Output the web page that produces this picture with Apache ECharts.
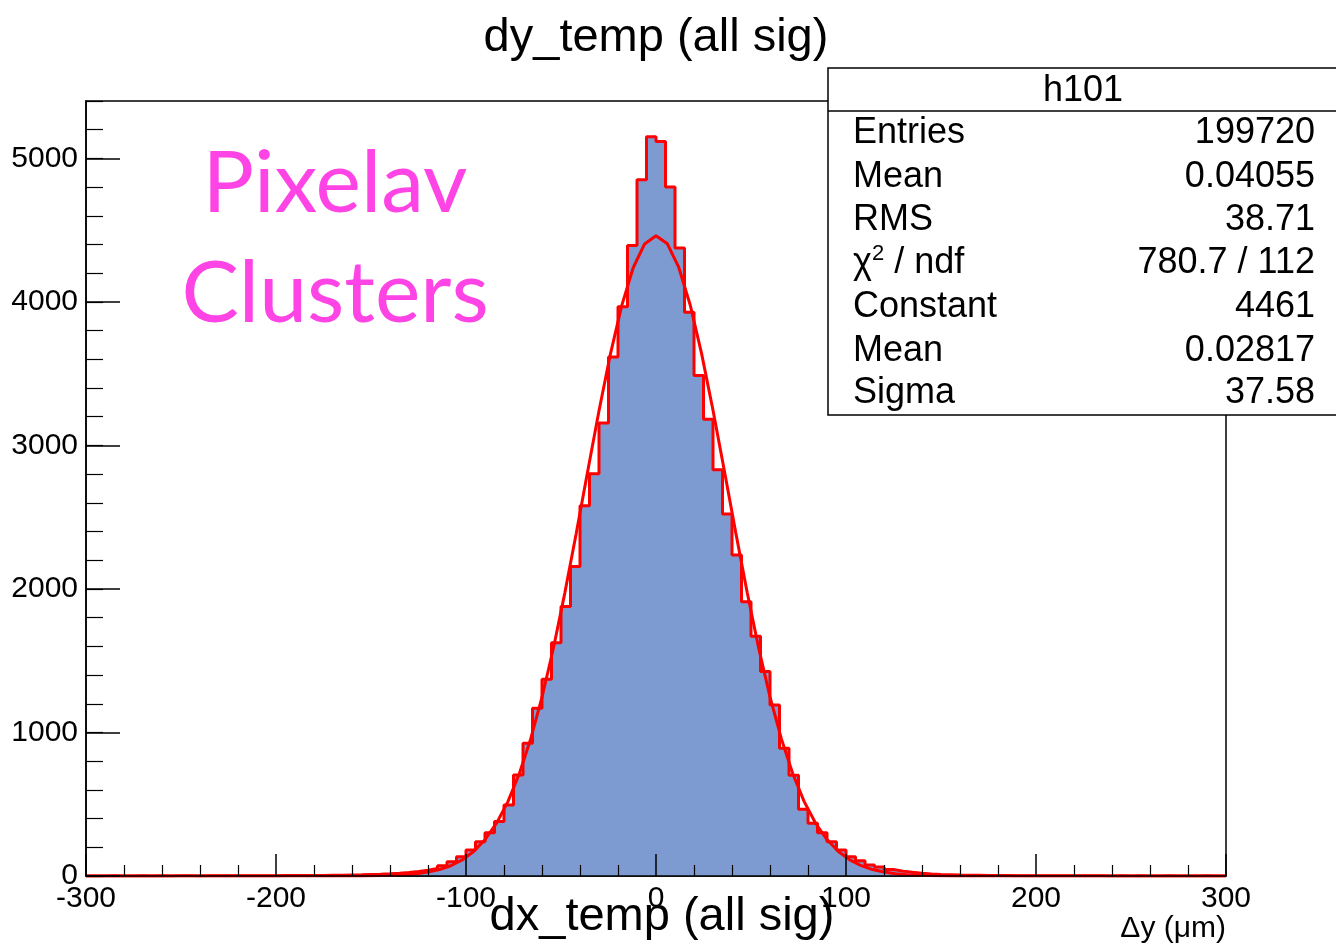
<!DOCTYPE html>
<html>
<head>
<meta charset="utf-8">
<title>dy_temp (all sig)</title>
<script src="https://cdn.jsdelivr.net/npm/echarts@6/dist/echarts.min.js"></script>
<style>
  html, body { margin: 0; padding: 0; background: #fff; }
  #chart { width: 1336px; height: 947px; }
</style>
</head>
<body>
<div id="chart"></div>
<script>
// Histogram h101: 120 bins of 5 um from -300 to 300 (counts per bin, left to right)
const binLow = -300;
const binWidth = 5;
const binCounts = [
  0, 0, 1, 0, 0, 1, 0, 1, 0, 1,
  1, 0, 1, 1, 1, 2, 1, 2, 2, 2,
  3, 3, 3, 4, 4, 5, 6, 7, 8, 10,
  12, 15, 19, 24, 31, 40, 53, 72, 100, 135,
  181, 239, 302, 379, 495, 704, 925, 1169, 1371, 1625,
  1878, 2157, 2580, 2803, 3157, 3617, 3966, 4393, 4851, 5151,
  5118, 4800, 4375, 3928, 3487, 3182, 2831, 2522, 2236, 1911,
  1671, 1425, 1192, 890, 702, 465, 367, 302, 239, 181,
  135, 107, 77, 62, 45, 34, 26, 19, 14, 11,
  9, 7, 6, 5, 4, 3, 3, 2, 2, 2,
  2, 1, 1, 1, 1, 1, 1, 0, 1, 0,
  1, 0, 0, 1, 0, 0, 0, 1, 0, 0
];

// Gaussian fit parameters (from the stats box)
const fitConstant = 4461;
const fitMean = 0.02817;
const fitSigma = 37.58;
const fitPoints = 100;

// Axis ranges and tick labels
const xRange = [-300, 300];
const yRange = [0, 5400];
const xTickLabels = [-300, -200, -100, 0, 100, 200, 300];
const yTickLabels = [0, 1000, 2000, 3000, 4000, 5000];

// Stats box rows
const statsTitle = 'h101';
const statsNames = ['Entries', 'Mean', 'RMS', '\u03c7{sup|2} / ndf', 'Constant', 'Mean', 'Sigma'];
const statsValues = ['199720', '0.04055', '38.71', '780.7 / 112', '4461', '0.02817', '37.58'];

// Step outline: one point per bin left edge, plus the closing right edge
const histData = binCounts.map((c, i) => [binLow + i * binWidth, c]);
histData.push([binLow + binCounts.length * binWidth, binCounts[binCounts.length - 1]]);

// Fit curve sampled like a TF1 polyline
const fitData = [];
for (let i = 0; i <= fitPoints; i++) {
  const x = xRange[0] + (xRange[1] - xRange[0]) * i / fitPoints;
  const z = (x - fitMean) / fitSigma;
  fitData.push([x, fitConstant * Math.exp(-0.5 * z * z)]);
}

const FONT = '"Liberation Sans", Arial, Helvetica, sans-serif';
const GRID = { left: 86, top: 101, right: 110, bottom: 71 };

const chart = echarts.init(document.getElementById('chart'), null, { renderer: 'canvas' });

const statsGraphics = [];
const boxX = 828, boxY = 68, boxW = 530, boxH = 347;
statsGraphics.push({
  type: 'rect', z: 100,
  shape: { x: boxX, y: boxY, width: boxW, height: boxH },
  style: { fill: '#fff', stroke: '#000', lineWidth: 1.5 }
});
statsGraphics.push({
  type: 'line', z: 101,
  shape: { x1: boxX, y1: 111, x2: boxX + boxW, y2: 111 },
  style: { stroke: '#000', lineWidth: 1.5 }
});
statsGraphics.push({
  type: 'text', z: 102, x: 1083, y: 91,
  style: { text: statsTitle, font: '36px ' + FONT, fill: '#000', align: 'center', verticalAlign: 'middle' }
});
const rowY = [133, 177, 220, 263, 307, 351, 393];
statsNames.forEach((name, i) => {
  statsGraphics.push({
    type: 'text', z: 102, x: 853, y: rowY[i],
    style: {
      text: name, font: '36px ' + FONT, fill: '#000', align: 'left', verticalAlign: 'middle',
      rich: { sup: { fontSize: 22, fontFamily: FONT, verticalAlign: 'top', padding: [0, 0, 18, 0] } }
    }
  });
  statsGraphics.push({
    type: 'text', z: 102, x: 1315, y: rowY[i],
    style: { text: statsValues[i], font: '36px ' + FONT, fill: '#000', align: 'right', verticalAlign: 'middle' }
  });
});

const option = {
  backgroundColor: '#fff',
  animation: false,
  grid: Object.assign({ show: true, borderColor: '#000', borderWidth: 1.5, backgroundColor: 'transparent' }, GRID),
  xAxis: {
    type: 'value', min: xRange[0], max: xRange[1], interval: 100, z: 10,
    axisLine: { show: true, onZero: false, lineStyle: { color: '#000', width: 1.5 } },
    axisTick: { show: true, inside: true, length: 22, lineStyle: { color: '#000', width: 1.5 } },
    minorTick: { show: true, splitNumber: 5, length: 11, lineStyle: { color: '#000', width: 1.2 } },
    splitLine: { show: false },
    axisLabel: {
      show: true, margin: 8, color: '#000', fontSize: 30, fontFamily: FONT,
      formatter: v => (xTickLabels.indexOf(v) >= 0 ? String(v) : '')
    }
  },
  yAxis: [
    {
      type: 'value', min: yRange[0], max: yRange[1], interval: 1000, z: 10, position: 'left',
      axisLine: { show: true, onZero: false, lineStyle: { color: '#000', width: 1.5 } },
      axisTick: { show: true, inside: true, length: 34, lineStyle: { color: '#000', width: 1.5 } },
      splitLine: { show: false },
      axisLabel: {
        show: true, margin: 8, color: '#000', fontSize: 30, fontFamily: FONT, showMaxLabel: false,
        formatter: v => (yTickLabels.indexOf(v) >= 0 ? String(v) : '')
      }
    },
    {
      type: 'value', min: yRange[0], max: yRange[1], interval: 200, z: 10, position: 'left', offset: 0,
      axisLine: { show: false, onZero: false },
      axisTick: { show: true, inside: true, length: 17, lineStyle: { color: '#000', width: 1.2 } },
      splitLine: { show: false },
      axisLabel: { show: false }
    }
  ],
  series: [
    {
      name: 'h101', type: 'line', step: 'end', data: histData,
      symbol: 'none', z: 2,
      lineStyle: { color: '#ff0000', width: 3 },
      areaStyle: { color: '#7d9bd1', opacity: 1 }
    },
    {
      name: 'gaus', type: 'line', data: fitData, symbol: 'none', smooth: false, z: 3,
      lineStyle: { color: '#ff0000', width: 3 }
    }
  ],
  graphic: [
    {
      type: 'text', z: 50, x: 656, y: 38,
      style: { text: 'dy_temp (all sig)', font: '47px ' + FONT, fill: '#000', align: 'center', verticalAlign: 'middle' }
    },
    {
      type: 'text', z: 50, x: 662, y: 917,
      style: { text: 'dx_temp (all sig)', font: '47px ' + FONT, fill: '#000', align: 'center', verticalAlign: 'middle' }
    },
    {
      type: 'text', z: 50, x: 1226, y: 929,
      style: { text: '\u0394y (\u03bcm)', font: '30px ' + FONT, fill: '#000', align: 'right', verticalAlign: 'middle' }
    },
    {
      type: 'text', z: 50, x: 335, y: 184,
      style: { text: 'Pixelav', font: '86px Lato, "Open Sans", sans-serif', fill: '#ff44e6', align: 'center', verticalAlign: 'middle' }
    },
    {
      type: 'text', z: 50, x: 335, y: 294,
      style: { text: 'Clusters', font: '86px Lato, "Open Sans", sans-serif', fill: '#ff44e6', align: 'center', verticalAlign: 'middle' }
    }
  ].concat(statsGraphics)
};

chart.setOption(option);
</script>
</body>
</html>
